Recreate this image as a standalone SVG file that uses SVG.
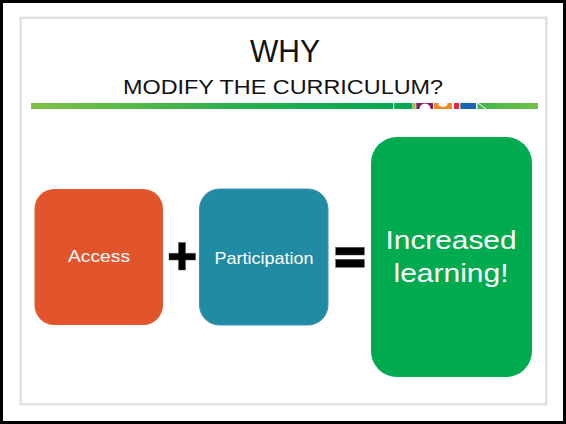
<svg xmlns="http://www.w3.org/2000/svg" width="566" height="424" viewBox="0 0 566 424">
  <defs>
    <linearGradient id="barGrad" x1="0" y1="0" x2="1" y2="0">
      <stop offset="0" stop-color="#80c244"/>
      <stop offset="0.4" stop-color="#2baf4f"/>
      <stop offset="0.75" stop-color="#00a651"/>
      <stop offset="1" stop-color="#76c247"/>
    </linearGradient>
    <style>
      .title { font-family: "Liberation Sans", Arial, sans-serif; fill: #111111; text-anchor: middle; }
      .label { font-family: "Liberation Sans", Arial, sans-serif; fill: #ffffff; text-anchor: middle; }
      .op { fill: #000000; stroke: #555555; stroke-width: 0.5; }
    </style>
  </defs>

  <!-- page background & frame -->
  <rect x="0" y="0" width="566" height="424" fill="#ffffff"/>
  <rect x="1.5" y="1.5" width="563" height="421" fill="none" stroke="#000000" stroke-width="3"/>

  <!-- slide card -->
  <rect x="21" y="18" width="525" height="386" fill="none" stroke="#f0f0f0" stroke-width="4"/>
  <rect x="21" y="18" width="525" height="386" fill="#ffffff" stroke="#dadada" stroke-width="1.5"/>

  <!-- title -->
  <g id="title">
    <text class="title" x="285" y="62" font-size="32" textLength="70" lengthAdjust="spacingAndGlyphs">WHY</text>
    <text class="title" x="283" y="94" font-size="20" textLength="320" lengthAdjust="spacingAndGlyphs">MODIFY THE CURRICULUM?</text>
  </g>

  <!-- decorative bar -->
  <g id="bar">
    <rect x="31" y="103" width="507" height="6" fill="url(#barGrad)"/>
    <rect x="393" y="103" width="1.2" height="6" fill="#ffffff"/>
    <rect x="412.5" y="103" width="1" height="6" fill="#ffffff"/>
    <rect x="413.5" y="103" width="2" height="6" fill="#d9a52a"/>
    <rect x="415.5" y="103" width="1" height="6" fill="#ffffff"/>
    <rect x="416.5" y="103" width="16.5" height="6" fill="#8b1a6b"/>
    <path d="M419.5 109 A5.5 5.5 0 0 1 430.5 109 Z" fill="#ffffff"/>
    <rect x="433" y="103" width="1" height="6" fill="#ffffff"/>
    <rect x="434" y="103" width="18" height="6" fill="#f08a24"/>
    <path d="M438.5 103 L438.5 105 Q443 109 447.5 105 L447.5 103 Z" fill="#ffffff"/>
    <rect x="452" y="103" width="2" height="6" fill="#ffffff"/>
    <rect x="454" y="103" width="5" height="6" fill="#e8253a"/>
    <rect x="459" y="103" width="1.5" height="6" fill="#ffffff"/>
    <rect x="460.5" y="103" width="15.5" height="6" fill="#1a64b4"/>
    <rect x="476" y="103" width="1.5" height="6" fill="#ffffff"/>
    <line x1="478" y1="103" x2="486" y2="109" stroke="#ffffff" stroke-width="1"/>
  </g>

  <!-- nodes -->
  <g id="access">
    <rect x="34.5" y="189" width="128.5" height="136" rx="20" ry="20" fill="#e2552c"/>
    <text class="label" x="99" y="262" font-size="17" textLength="62" lengthAdjust="spacingAndGlyphs">Access</text>
  </g>

  <g id="participation">
    <rect x="199.5" y="189" width="128.5" height="136" rx="20" ry="20" fill="#1f8ca3" stroke="#4a8cc0" stroke-width="1"/>
    <text class="label" x="264" y="264" font-size="17" textLength="99" lengthAdjust="spacingAndGlyphs">Participation</text>
  </g>

  <g id="result">
    <rect x="371" y="137" width="161" height="240" rx="26" ry="26" fill="#00aa4f"/>
    <text class="label" x="451" y="249" font-size="25" textLength="131" lengthAdjust="spacingAndGlyphs">Increased</text>
    <text class="label" x="451" y="282" font-size="25" textLength="115" lengthAdjust="spacingAndGlyphs">learning!</text>
  </g>

  <!-- operators between nodes -->
  <g id="operators">
    <path class="op" d="M178.5 242.5 H185.5 V253.3 H195.5 V260 H185.5 V270 H178.5 V260 H169 V253.3 H178.5 Z"/>
    <rect class="op" x="335.7" y="247.3" width="28.6" height="7.7"/>
    <rect class="op" x="335.7" y="259.3" width="28.6" height="8"/>
  </g>
</svg>
